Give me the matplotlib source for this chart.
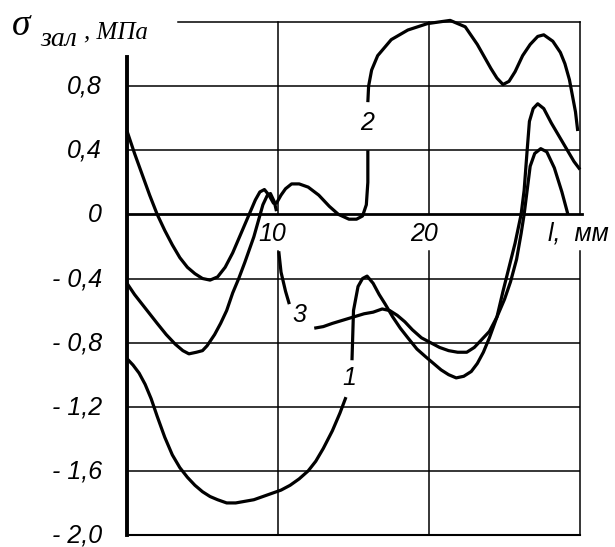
import numpy as np
import matplotlib
matplotlib.use("Agg")
import matplotlib.pyplot as plt
from matplotlib.transforms import ScaledTranslation

nan = np.nan

# кривая 1 (нижняя)
x1 = [0, 0.4, 0.8, 1.2, 1.6, 2.0, 2.5, 3.0, 3.5, 4.0, 4.5, 5.0, 5.5, 6.0, 6.6, 7.2, 7.8,
      8.4, 9.0, 9.6, 10.2, 10.8, 11.4, 12.0, 12.5, 13.0, 13.6, 14.1, 14.5, nan,
      14.9, 15.0, 15.3, 15.6, 15.9, 16.3, 16.7, 17.1, 17.6, 18.1, 18.6, 19.2, 19.8,
      20.3, 20.8, 21.3, 21.8, 22.3, 22.8, 23.2, 23.6, 24.0, 24.5, 24.9, 25.3, 25.7,
      26.1, 26.3, 26.5, 26.65, 26.9, 27.2, 27.6, 28.1, 28.6, 29.1, 29.6, 30.0]
y1 = [-0.90, -0.94, -0.99, -1.06, -1.15, -1.26, -1.39, -1.50, -1.58, -1.64, -1.69,
      -1.73, -1.76, -1.78, -1.80, -1.80, -1.79, -1.78, -1.76, -1.74, -1.72, -1.69,
      -1.65, -1.60, -1.54, -1.46, -1.35, -1.24, -1.14, nan,
      -0.91, -0.60, -0.45, -0.40, -0.385, -0.43, -0.50, -0.56, -0.64, -0.71, -0.77,
      -0.84, -0.89, -0.93, -0.97, -1.00, -1.02, -1.01, -0.98, -0.93, -0.86, -0.77,
      -0.64, -0.48, -0.33, -0.18, 0.0, 0.15, 0.40, 0.58, 0.66, 0.69, 0.66, 0.57,
      0.49, 0.41, 0.33, 0.28]

# кривая 2 (верхняя)
x2 = [0, 0.5, 1, 1.5, 2, 2.5, 3, 3.5, 4, 4.5, 5, 5.5, 6, 6.5, 7, 7.5, 8, 8.5, 8.8,
      9.1, 9.4, 9.7, 9.9, 10.2, 10.5, 10.9, 11.4, 12.0, 12.7, 13.4, 14.0, 14.7, 15.2,
      15.6, 15.85, 15.95, 15.95, nan, 15.95, 16.0, 16.2, 16.6, 17.5, 18.6, 19.9, 21.4,
      22.4, 23.2, 24.1, 24.5, 24.9, 25.3, 25.7, 26.2, 26.7, 27.2, 27.6, 28.2, 28.7,
      29.0, 29.3, 29.5, 29.7, 29.85]
y2 = [0.52, 0.38, 0.25, 0.12, 0.0, -0.10, -0.19, -0.27, -0.33, -0.37, -0.40, -0.41,
      -0.39, -0.33, -0.24, -0.13, -0.02, 0.09, 0.14, 0.155, 0.12, 0.07, 0.07, 0.12,
      0.16, 0.19, 0.19, 0.17, 0.12, 0.05, 0.0, -0.03, -0.03, -0.01, 0.06, 0.20, 0.40,
      nan, 0.70, 0.80, 0.90, 0.99, 1.09, 1.15, 1.19, 1.21, 1.17, 1.06, 0.91, 0.85,
      0.81, 0.83, 0.89, 0.99, 1.06, 1.11, 1.12, 1.08, 1.01, 0.94, 0.84, 0.74, 0.64,
      0.52]

# кривая 3
x3 = [0, 0.5, 1, 1.5, 2, 2.6, 3.2, 3.7, 4.1, 4.6, 5.0, 5.3, 5.8, 6.2, 6.6, 7.0, 7.4,
      7.8, 8.1, 8.4, 8.7, 9.0, 9.3, 9.5, 9.75, 9.9, nan, 10.05, 10.2, 10.5, 10.75, nan,
      12.4, 13.0, 13.6, 14.3, 15.0, 15.7, 16.3, 16.9, 17.4, 17.9, 18.4, 18.9, 19.5,
      20.1, 20.7, 21.3, 21.9, 22.5, 23.0, 23.5, 24.0, 24.5, 25.0, 25.4, 25.8, 26.1,
      26.3, 26.5, 26.7, 27.0, 27.4, 27.8, 28.3, 28.8, 29.2]
y3 = [-0.43, -0.50, -0.56, -0.62, -0.68, -0.75, -0.81, -0.85, -0.87, -0.86, -0.85,
      -0.82, -0.75, -0.68, -0.60, -0.49, -0.40, -0.30, -0.22, -0.14, -0.04, 0.06,
      0.12, 0.13, 0.08, 0.02, nan, -0.23, -0.36, -0.48, -0.56, nan,
      -0.71, -0.70, -0.68, -0.66, -0.64, -0.62, -0.61, -0.59, -0.60, -0.63, -0.67,
      -0.72, -0.77, -0.80, -0.83, -0.85, -0.86, -0.86, -0.83, -0.78, -0.73, -0.64,
      -0.53, -0.42, -0.28, -0.12, 0.0, 0.15, 0.30, 0.38, 0.41, 0.39, 0.29, 0.14, 0.0]

yticks = [0.8, 0.4, 0, -0.4, -0.8, -1.2, -1.6, -2.0]
ylabels = ["0,8", "0,4", "0", "- 0,4", "- 0,8", "- 1,2", "- 1,6", "- 2,0"]
xgrid = [10, 20, 30]

fig = plt.figure(figsize=(6.15, 5.47), dpi=100)
ax = fig.add_axes([127 / 615, 1 - 535 / 547, 453 / 615, 513 / 547])
ax.set_xlim(0, 30)
ax.set_ylim(-2.0, 1.2)
for s in ax.spines.values():
    s.set_visible(False)

sans = "Liberation Sans"
serif = "Liberation Serif"

# сетка
for y in [0.8, 0.4, -0.4, -0.8, -1.2, -1.6]:
    ax.plot([0, 30], [y, y], color="black", lw=1.1, solid_capstyle="butt")
ax.plot([3.36, 30], [1.2, 1.2], color="black", lw=1.1, clip_on=False)
ax.plot([0, 30.1], [0, 0], color="black", lw=2.0, clip_on=False)
ax.plot([0, 30], [-2.0, -2.0], color="black", lw=1.5, clip_on=False)
ax.plot([0, 0], [-2.0, 0.98], color="black", lw=2.8, clip_on=False)
for xg in xgrid:
    ax.plot([xg, xg], [0, 1.2], color="black", lw=1.1, clip_on=False)
    ax.plot([xg, xg], [-0.23, -2.0], color="black", lw=1.1, clip_on=False)

# кривые
for xs, ys in [(x1, y1), (x2, y2), (x3, y3)]:
    ax.plot(xs, ys, color="black", lw=2.3, clip_on=False,
            solid_joinstyle="round", solid_capstyle="butt")

ax.set_xticks([])
ax.set_yticks(yticks)
ax.set_yticklabels(ylabels, fontsize=18, fontstyle="italic", family=sans)
ax.tick_params(axis="y", length=0, pad=18)
# чуть поднять подписи, чтобы "- 2,0" не обрезалась снизу
shift = ScaledTranslation(0, 2 / 100, fig.dpi_scale_trans)
for t in ax.get_yticklabels():
    t.set_transform(t.get_transform() + shift)

lab = dict(fontsize=18, fontstyle="italic", family=sans, va="center")
ax.text(9.65, -0.12, "10", ha="center", **lab)
ax.text(19.7, -0.12, "20", ha="center", **lab)
ax.text(27.9, -0.12, "l,  мм", ha="left", **lab)
ax.text(15.9, 0.57, "2", ha="center", **lab)
ax.text(11.4, -0.63, "3", ha="center", **lab)
ax.text(14.7, -1.02, "1", ha="center", **lab)

fig.text(12 / 615, 1 - 35 / 547, "σ", fontsize=27, fontstyle="italic",
         family=serif, va="baseline", ha="left")
fig.text(40 / 615, 1 - 46 / 547, "зал", fontsize=20, fontstyle="italic",
         family=serif, va="baseline", ha="left")
fig.text(84 / 615, 1 - 38 / 547, ", МПа", fontsize=18, fontstyle="italic",
         family=serif, va="baseline", ha="left")

fig.savefig("out.png", dpi=100)
